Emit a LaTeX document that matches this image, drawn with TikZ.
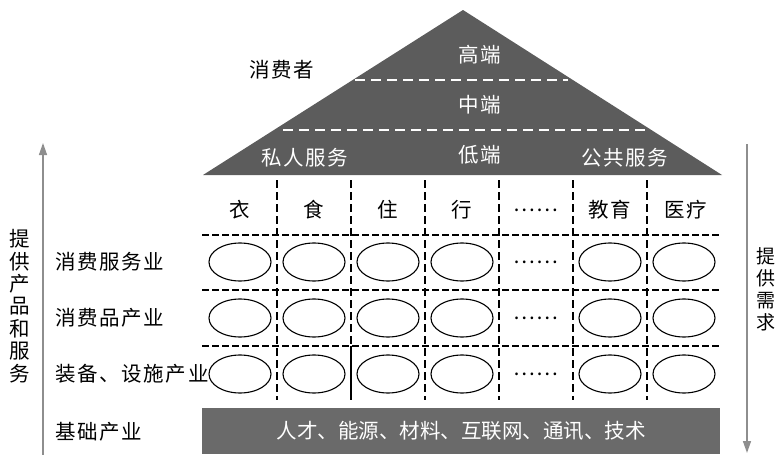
\documentclass[tikz,border=0pt]{standalone}
\usepackage{fontspec}
\setmainfont[LetterSpace=8]{Noto Sans CJK SC}
\usetikzlibrary{
    positioning,
    shapes.geometric,
    arrows.meta
}
\definecolor{pyramidgray}{HTML}{5C5C5C}
\definecolor{basegray}{HTML}{6A6A6A}
\definecolor{flowgray}{HTML}{8E8E8E}

\begin{document}
\begin{tikzpicture}[x=1pt,y=-1pt,
  txt/.style={font=\fontsize{20.5}{22.4}\selectfont, inner sep=0pt},
  wtxt/.style={txt, text=white},
  cell/.style={draw, ellipse, line width=1.1pt, minimum width=62pt, minimum height=38pt, inner sep=0pt},
  gridline/.style={line width=1.3pt, dash pattern=on 7pt off 3pt},
  colline/.style={line width=1.3pt, dash pattern=on 8pt off 4pt},
  tierline/.style={white, line width=2.5pt, dash pattern=on 10pt off 6pt},
  flow/.style={draw=flowgray, line width=1.4pt, -{Triangle[length=12pt,width=8pt]}}]
\useasboundingbox (0,0) rectangle (777,455);

% pyramid of consumers
\coordinate (apex) at (463,10);
\coordinate (baseL) at (203,175);
\coordinate (baseR) at (722,175);
\fill[pyramidgray] (baseL) -- (apex) -- (baseR) -- cycle;
\draw[tierline] (355,80) -- (568,80);
\draw[tierline] (283,130) -- (647,130);
\node[wtxt] (high) at (480,55) {高端};
\node[wtxt] (mid) at (480,105) {中端};
\node[wtxt] (low) at (480,155) {低端};
\node[wtxt] (private) at (305,158) {私人服务};
\node[wtxt] (public) at (625,158) {公共服务};
\node[txt] (consumer) at (282,70) {消费者};

% grid
\foreach \x in {277,351,425,499,573,647}
  \draw[colline] (\x,180) -- (\x,400);
\draw[line width=1.3pt] (351,346) -- (351,400);
\foreach \y in {235,290,346}
  \draw[gridline] (202,\y) -- (722,\y);

\foreach \x/\t [count=\i] in {240/衣,314/食,388/住,462/行,536/……,610/教育,686/医疗}
  \node[txt] (head\i) at (\x,210) {\t};

\foreach \y [count=\r] in {262,318,374} {
  \foreach \x [count=\c] in {240,314,388,462,610,684}
    \node[cell] (cell\r\c) at (\x,\y) {};
  \node[txt] (dots\r) at (536,\y) {……};
}

% industries
\node[txt, anchor=west] (service) at (55,262) {消费服务业};
\node[txt, anchor=west] (goods) at (55,318) {消费品产业};
\node[txt, anchor=west] (equip) at (55,374) {装备、设施产业};
\node[txt, anchor=west] (basic) at (55,432) {基础产业};
\node[wtxt, fill=basegray, minimum width=518pt, minimum height=46pt] (base) at (461,431) {\addfontfeature{LetterSpace=0}人才、能源、材料、互联网、通讯、技术};

% side arrows
\coordinate (upS) at (43,455);
\coordinate (upE) at (43,143);
\draw[flow] (upS) -- (upE);
\node[txt, align=center] (supply) at (20,306) {提\\供\\产\\品\\和\\服\\务};
\coordinate (downS) at (747,144);
\coordinate (downE) at (747,453);
\draw[flow] (downS) -- (downE);
\node[txt, font=\fontsize{19}{22}\selectfont, align=center] (demand) at (766,289) {提\\供\\需\\求};
\end{tikzpicture}
\end{document}
